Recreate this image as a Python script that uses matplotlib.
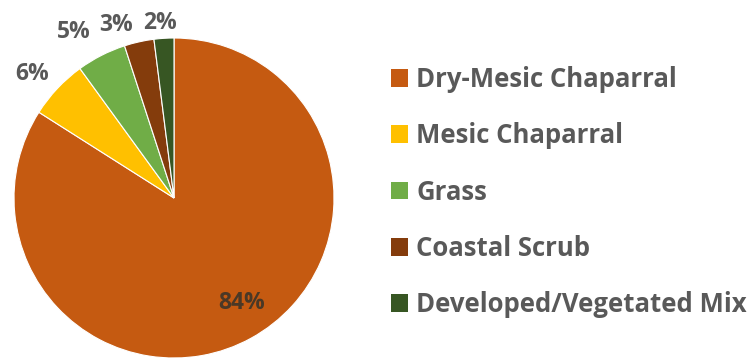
import numpy as np
import matplotlib
matplotlib.use("Agg")
import matplotlib.pyplot as plt
from matplotlib.patches import Patch

categories = ["Dry-Mesic Chaparral", "Mesic Chaparral", "Grass",
              "Coastal Scrub", "Developed/Vegetated Mix"]
shares = [84, 6, 5, 3, 2]
colors = ["#C55A11", "#FFC000", "#70AD47", "#843C0C", "#375623"]

FONT = "Open Sans"
TEXT_GRAY = "#595959"

fig = plt.figure(figsize=(7.49, 3.6), dpi=100)
ax = fig.add_axes([0, 0, 1, 1])

cx, cy, r = 174, 162, 160
wedges, _ = ax.pie(shares, colors=colors, startangle=90, counterclock=False,
                   center=(cx, cy), radius=r, frame=True,
                   wedgeprops=dict(edgecolor="white", linewidth=0.8))
ax.set_xlim(0, 749)
ax.set_ylim(0, 360)
ax.set_aspect("equal")
ax.axis("off")

# label placement: radial distance (in radii) and angular nudge (degrees)
label_dist = [0.78, 1.18, 1.21, 1.14, 1.10]
label_nudge = [4, 2, 4, 6, 1]
for w, val, d, nudge in zip(wedges, shares, label_dist, label_nudge):
    mid = np.deg2rad((w.theta1 + w.theta2) / 2 + nudge)
    x = cx + d * r * np.cos(mid)
    y = cy + d * r * np.sin(mid)
    col = "#4a3826" if d < 1 else TEXT_GRAY
    ax.text(x, y, f"{val}%", ha="center", va="center", fontsize=16.5,
            fontweight="bold", color=col, family=FONT)

handles = [Patch(facecolor=c, edgecolor="none") for c in colors]
leg = fig.legend(handles, categories, loc="upper left",
                 bbox_to_anchor=(391 / 749, 1 - 66 / 360),
                 frameon=False, handlelength=0.68, handleheight=0.68,
                 handletextpad=0.3, labelspacing=1.14, borderaxespad=0,
                 borderpad=0,
                 prop=dict(family=FONT, weight="bold", size=18.5))
for t in leg.get_texts():
    t.set_color(TEXT_GRAY)

fig.savefig("out.png", dpi=100, facecolor="white")
